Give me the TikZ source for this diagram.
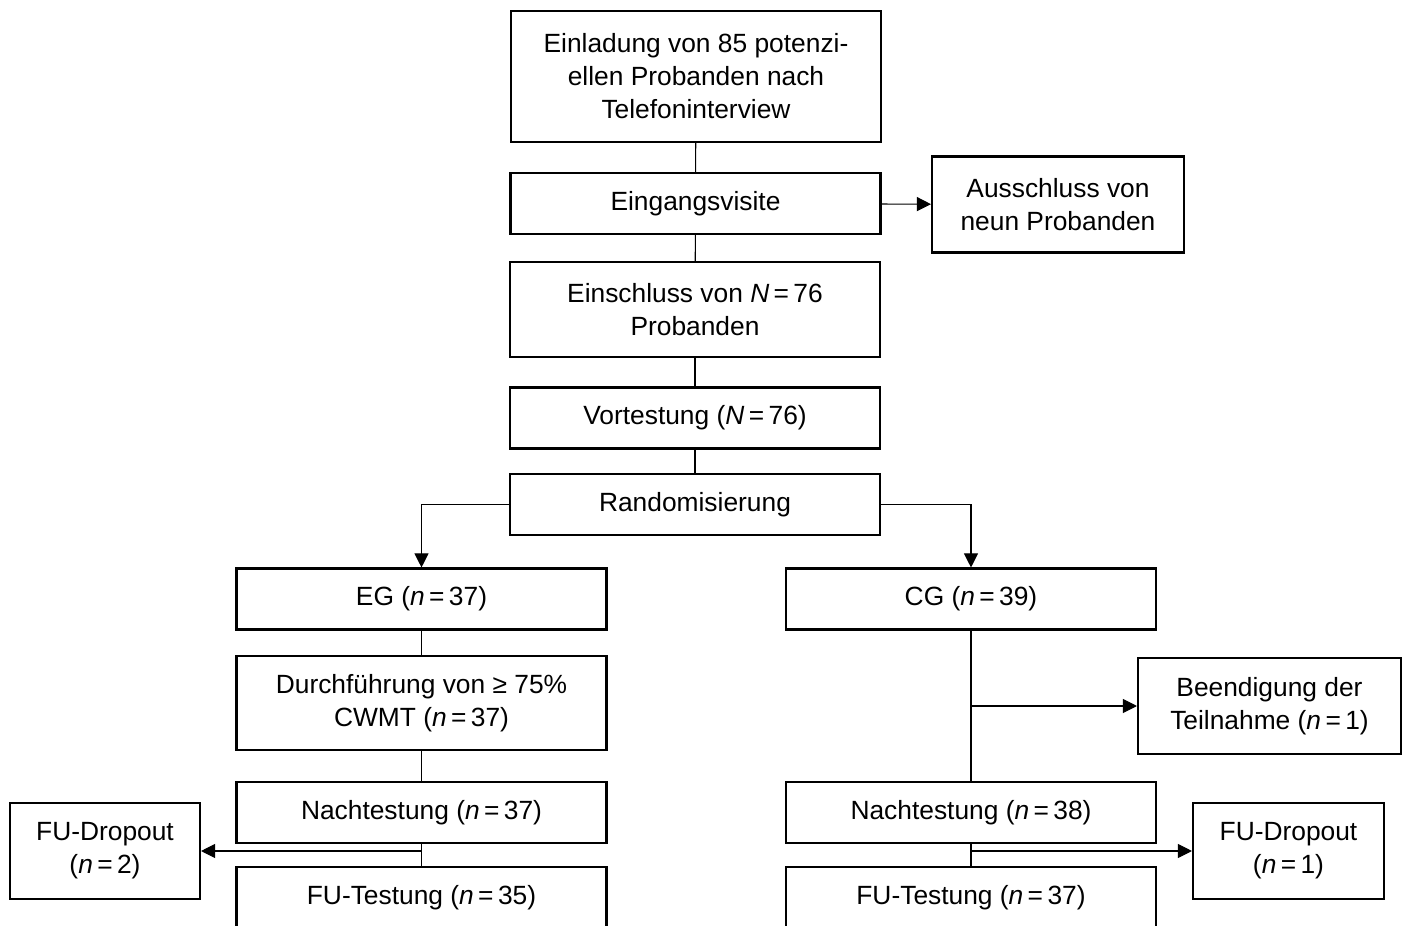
\documentclass[tikz,border=0pt]{standalone}
\usepackage{fontspec}
\setmainfont{Liberation Sans}
\usetikzlibrary{arrows.meta}

\tikzset{
  box/.style={draw, line width=1.2pt, align=center, minimum width=7.4cm, minimum height=1.22cm, inner sep=2pt, font=\fontsize{15}{18.8}\selectfont},
  sidebox/.style={box, minimum height=1.92cm},
  link/.style={line width=0.6pt},
  arr/.style={link, -{Triangle[length=8pt,width=8pt]}}
}

\begin{document}
\begin{tikzpicture}[x=0.02cm, y=-0.02cm]
        
        \useasboundingbox (0,0) rectangle (1404,926);
        \clip (0,0) rectangle (1404,926);
        
        % Main column
        \node[box, minimum height=2.62cm] (invite) at (696,76.5) {Einladung von 85 potenzi-\\ellen Probanden nach\\Telefoninterview};
        \node[box] (visit) at (695.5,203.5) {Eingangsvisite};
        \node[box, minimum height=1.9cm] (incl) at (695,309.5) {Einschluss von \textit{N}\,=\,76\\Probanden};
        \node[box] (pretest) at (695,418) {Vortestung (\textit{N}\,=\,76)};
        \node[box] (random) at (695,504.5) {Randomisierung};
        
        \node[sidebox, minimum width=5.04cm] (excl) at (1058,204.5) {Ausschluss von\\neun Probanden};
        
        % Left branch (EG)
        \node[box] (eg) at (421.5,599) {EG (\textit{n}\,=\,37)};
        \node[box, minimum height=1.88cm] (cwmt) at (421.5,703) {Durchführung von ≥ 75\%\\CWMT (\textit{n}\,=\,37)};
        \node[box] (postL) at (421.5,812.5) {Nachtestung (\textit{n}\,=\,37)};
        \node[box] (fuL) at (421.5,897.5) {FU-Testung (\textit{n}\,=\,35)};
        \node[sidebox, minimum width=3.8cm] (dropL) at (105,851) {FU-Dropout\\(\textit{n}\,=\,2)};
        
        % Right branch (CG)
        \node[box] (cg) at (971,599) {CG (\textit{n}\,=\,39)};
        \node[sidebox, minimum width=5.26cm] (quit) at (1269.5,706) {Beendigung der\\Teilnahme (\textit{n}\,=\,1)};
        \node[box] (postR) at (971,812.5) {Nachtestung (\textit{n}\,=\,38)};
        \node[box] (fuR) at (971,897.5) {FU-Testung (\textit{n}\,=\,37)};
        \node[sidebox, minimum width=3.82cm] (dropR) at (1288.5,851) {FU-Dropout\\(\textit{n}\,=\,1)};
        
        % Connectors
        \draw[link] (invite) -- (visit);
        \draw[link] (visit) -- (incl);
        \draw[link] (incl) -- (pretest);
        \draw[link] (pretest) -- (random);
        \draw[arr] (visit) -- (excl);
        
        \draw[arr] (random.west) -| (eg.north);
        \draw[arr] (random.east) -| (cg.north);
        
        \draw[link] (eg) -- (cwmt);
        \draw[link] (cwmt) -- (postL);
        \draw[link] (postL) -- (fuL);
        \draw[arr] (dropL.east -| postL.south) -- (dropL.east);
        
        \draw[link] (cg) -- (postR);
        \draw[arr] (quit.west -| cg.south) -- (quit.west);
        \draw[link] (postR) -- (fuR);
        \draw[arr] (dropR.west -| postR.south) -- (dropR.west);
        
        \end{tikzpicture}
\end{document}
